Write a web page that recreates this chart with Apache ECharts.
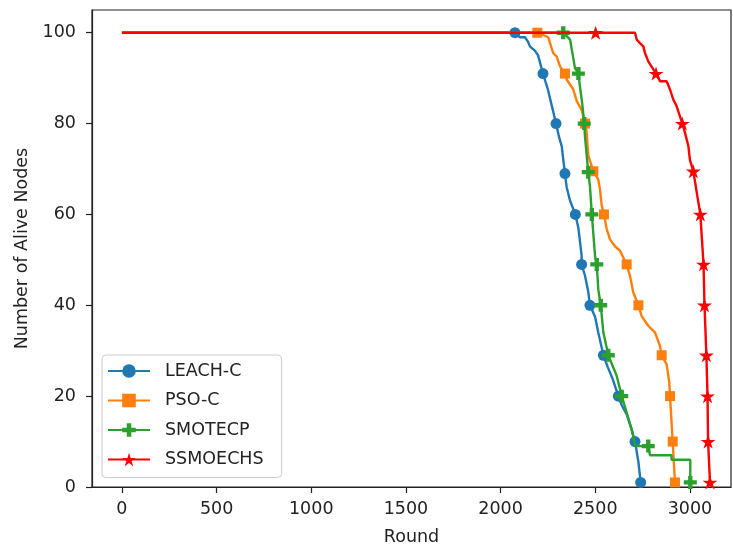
<!DOCTYPE html>
<html><head><meta charset="utf-8">
<script src="https://cdn.jsdelivr.net/npm/echarts@6/dist/echarts.min.js"></script>
<style>html,body{margin:0;padding:0;background:#fff}#c{width:733px;height:551px}</style>
</head><body><div id="c"></div>
<script>
const seriesNames = ['LEACH-C', 'PSO-C', 'SMOTECP', 'SSMOECHS'];
const xTicks = [0, 500, 1000, 1500, 2000, 2500, 3000];
const yTicks = [0, 20, 40, 60, 80, 100];

// curve points [round, alive nodes]
const leachC = [[0,100],[2102,99],[2129,99],[2145,98],[2155,97],[2182,96],[2198,95],[2250,87.5],[2270,84],[2309,77],[2323,75],[2349,66],[2367,63],[2411,57],[2428,51],[2446,46.5],[2463,43],[2499,37.5],[2516,34],[2565,26.5],[2590,24],[2640,18],[2666,16],[2692,12.7],[2728,5.5]];
const leachCMarks = [[2076,100],[2224,91],[2293,80],[2340,69],[2395,60],[2428,49],[2472,40],[2543,29],[2622,20],[2710,10],[2740,1]];

const psoC = [[0,100],[2225,99.5],[2252,99],[2261,97.7],[2278,95.5],[2296,94.8],[2314,92.6],[2349,89.7],[2384,87.5],[2402,85],[2428,83],[2455,78],[2463,73],[2516,67.7],[2525,65.5],[2534,62],[2561,56.7],[2578,54.5],[2604,53],[2631,52],[2648,50.5],[2684,46.4],[2701,42.8],[2745,37.6],[2780,35.5],[2816,34],[2842,31],[2877,27],[2886,24.5],[2891,23]];
const psoCMarks = [[2194,100],[2340,91],[2446,80],[2490,69.5],[2546,60],[2666,49],[2728,40],[2851,29],[2895,20],[2909,10],[2921,1]];

const smotecp = [[0,100],[2367,98.5],[2376,96.3],[2384,94.4],[2393,92.2],[2419,88.2],[2431,84.5],[2446,77],[2472,66.2],[2499,50.8],[2516,43.5],[2543,34],[2613,24.5],[2666,16.4],[2692,12.7],[2712,9],[2789,9],[2789,7],[2903,7],[2903,6],[3002,6]];
const smotecpMarks = [[2331,100],[2411,91],[2442,80],[2463,69.3],[2482,60],[2508,49],[2529,40],[2569,29],[2640,20],[2780,9],[3002,1]];

const ssmoechs = [[0,100],[2710,100],[2719,98.5],[2736,97.7],[2754,97],[2763,95.5],[2780,93.7],[2842,89.3],[2877,89.3],[2895,87.5],[2912,85.3],[2930,83.8],[2974,78],[2992,75],[3000,72]];
const ssmoechsMarks = [[2502,100],[2821,91],[2960,80],[3018,69.5],[3055,60],[3072,49],[3077,40],[3087,29],[3093,20],[3096,10],[3106,1]];

const colors = ['#1f77b4', '#ff7f0e', '#2ca02c', '#ff0000'];
const plusPath = 'path://M4,0H8V4H12V8H8V12H4V8H0V4H4Z';
const starPath = 'path://M50,0L61.2,34.5L97.6,34.5L68.2,55.9L79.4,90.5L50,69.1L20.6,90.5L31.8,55.9L2.4,34.5L38.8,34.5Z';
const symbols = ['circle', 'rect', plusPath, starPath];
const symSizes = [11, 10, 13, [15, 14]];

function build(pts, marks) {
  const all = pts.map(p => ({ value: p, symbolSize: 0 }))
    .concat(marks.map(p => ({ value: p })));
  all.sort((a, b) => a.value[0] - b.value[0] || b.value[1] - a.value[1]);
  return all;
}
const datasets = [build(leachC, leachCMarks), build(psoC, psoCMarks), build(smotecp, smotecpMarks), build(ssmoechs, ssmoechsMarks)];

const font = 'DejaVu Sans';
const chart = echarts.init(document.getElementById('c'), null, { renderer: 'canvas' });
chart.setOption({
  backgroundColor: '#fff',
  animation: false,
  grid: { left: 92, right: 2, top: 10, bottom: 63, show: true, borderColor: '#222', borderWidth: 1.2, backgroundColor: 'transparent' },
  xAxis: {
    type: 'value', min: -158, max: 3217,
    name: 'Round', nameLocation: 'middle', nameGap: 41,
    nameTextStyle: { fontFamily: font, fontSize: 17.5, color: '#222' },
    axisLine: { show: true, onZero: false, lineStyle: { color: '#222', width: 1.2 } },
    axisTick: { show: true, length: 6, lineStyle: { color: '#222', width: 1.2 }, customValues: xTicks },
    axisLabel: { fontFamily: font, fontSize: 17.5, color: '#222', margin: 13, customValues: xTicks, formatter: v => String(v) },
    splitLine: { show: false }
  },
  yAxis: {
    type: 'value', min: 0, max: 105,
    name: 'Number of Alive Nodes', nameLocation: 'middle', nameGap: 60, nameRotate: 90,
    nameTextStyle: { fontFamily: font, fontSize: 17.5, color: '#222' },
    axisLine: { show: true, onZero: false, lineStyle: { color: '#222', width: 1.2 } },
    axisTick: { show: true, length: 6, lineStyle: { color: '#222', width: 1.2 }, customValues: yTicks },
    axisLabel: { fontFamily: font, fontSize: 17.5, color: '#222', margin: 16, customValues: yTicks, formatter: v => String(v) },
    splitLine: { show: false }
  },
  legend: {
    orient: 'vertical', left: 102, top: 355,
    padding: [7, 18, 9, 5],
    backgroundColor: '#fff', borderColor: '#ccc', borderWidth: 1, borderRadius: 4,
    itemWidth: 42, itemHeight: 17, itemGap: 11.5,
    textStyle: { fontFamily: font, fontSize: 17.5, color: '#222', lineHeight: 17, padding: [0, 0, 0, 10] },
    data: seriesNames
  },
  series: seriesNames.map((n, i) => ({
    name: n, type: 'line', data: datasets[i],
    color: colors[i],
    lineStyle: { width: 2.4, color: colors[i] },
    itemStyle: { color: colors[i] },
    symbol: symbols[i], symbolSize: symSizes[i], showSymbol: true, showAllSymbol: true,
    z: 2 + i
  }))
});
</script></body></html>
